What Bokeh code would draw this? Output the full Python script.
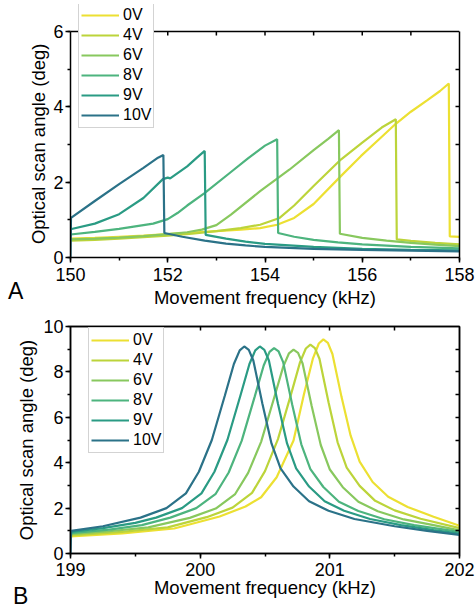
from bokeh.plotting import figure
from bokeh.layouts import column
from bokeh.models import (Legend, LegendItem, SingleIntervalTicker, FixedTicker, LinearAxis,
                          Range1d, Span, Div)
from bokeh.embed import file_html
from bokeh.resources import INLINE

FONT = "Liberation Sans"

voltages = ["0V", "4V", "6V", "8V", "9V", "10V"]
colors = ["#ece032", "#bcd43a", "#88c85e", "#4db47e", "#2a9b84", "#2b7288"]

# ---------------- Panel A (sweep 150-158 kHz) ----------------
a_0V_x = [150.0, 150.5, 151.0, 151.5, 152.0, 152.5, 153.0, 153.5, 153.9, 154.25, 154.6, 155.0,
          155.56, 155.97, 156.38, 156.69, 157.0, 157.34, 157.6, 157.78, 157.8, 158.0]
a_0V_y = [0.5, 0.52, 0.55, 0.58, 0.62, 0.66, 0.7, 0.74, 0.78, 0.87, 1.05, 1.42,
          2.16, 2.69, 3.18, 3.55, 3.87, 4.18, 4.42, 4.62, 0.56, 0.55]

a_4V_x = [150.0, 150.5, 151.0, 151.5, 152.0, 152.5, 153.0, 153.5, 153.9, 154.3, 154.6, 155.0,
          155.56, 156.0, 156.4, 156.69, 156.71, 157.0, 157.5, 158.0]
a_4V_y = [0.45, 0.47, 0.5, 0.54, 0.58, 0.63, 0.7, 0.78, 0.87, 1.05, 1.38, 1.9,
          2.6, 3.05, 3.45, 3.67, 0.48, 0.44, 0.39, 0.35]

a_6V_x = [150.0, 150.5, 151.0, 151.5, 152.0, 152.4, 152.7, 153.0, 153.3, 153.9, 154.5, 155.0,
          155.3, 155.52, 155.54, 156.0, 156.5, 157.0, 157.5, 158.0]
a_6V_y = [0.48, 0.5, 0.53, 0.57, 0.62, 0.67, 0.74, 0.86, 1.14, 1.76, 2.33, 2.85,
          3.15, 3.38, 0.63, 0.52, 0.45, 0.39, 0.34, 0.3]

a_8V_x = [150.0, 150.5, 151.0, 151.5, 151.7, 152.0, 152.2, 152.4, 152.75, 153.3, 153.65, 154.0,
          154.25, 154.27, 154.6, 155.0, 155.5, 156.0, 157.0, 158.0]
a_8V_y = [0.61, 0.68, 0.76, 0.86, 0.9, 1.02, 1.18, 1.38, 1.7, 2.27, 2.63, 2.97,
          3.14, 0.65, 0.55, 0.47, 0.4, 0.35, 0.28, 0.24]

a_9V_x = [150.0, 150.5, 151.0, 151.5, 151.9, 152.0, 152.05, 152.4, 152.6, 152.76, 152.78,
          153.2, 153.6, 154.0, 155.0, 156.0, 157.0, 158.0]
a_9V_y = [0.75, 0.9, 1.15, 1.58, 2.08, 2.12, 2.1, 2.42, 2.65, 2.83, 0.6,
          0.5, 0.42, 0.36, 0.28, 0.23, 0.2, 0.19]

a_10V_x = [150.0, 150.01, 150.5, 151.0, 151.5, 151.8, 151.91, 151.93, 152.3, 152.76, 153.2,
           153.6, 154.0, 155.0, 156.0, 157.0, 158.0]
a_10V_y = [0.0, 1.05, 1.5, 1.95, 2.38, 2.65, 2.72, 0.65, 0.55, 0.45, 0.37,
           0.32, 0.28, 0.23, 0.2, 0.18, 0.16]

# ---------------- Panel B (sweep 199-202 kHz) ----------------
b_0V_x = [199.0, 199.4, 199.8, 200.15, 200.35, 200.47, 200.59, 200.72, 200.8, 200.87, 200.915,
          200.95, 200.985, 201.02, 201.09, 201.16, 201.23, 201.33, 201.45, 201.6, 201.8, 202.0]
b_0V_y = [0.75, 0.88, 1.1, 1.63, 2.07, 2.48, 3.36, 4.98, 7.0, 8.6, 9.25,
          9.43, 9.28, 8.79, 6.9, 5.2, 4.05, 3.15, 2.5, 2.05, 1.62, 1.22]

b_4V_x = [199.0, 199.4, 199.75, 200.05, 200.25, 200.4, 200.5, 200.6, 200.7, 200.77, 200.815,
          200.85, 200.885, 200.92, 200.99, 201.06, 201.13, 201.23, 201.35, 201.5, 201.7, 202.0]
b_4V_y = [0.8, 0.95, 1.15, 1.6, 2.02, 2.67, 3.63, 5.04, 7.0, 8.42, 9.03,
          9.2, 9.05, 8.58, 6.66, 4.9, 3.78, 2.98, 2.32, 1.9, 1.53, 1.12]

b_6V_x = [199.0, 199.3, 199.6, 199.92, 200.12, 200.27, 200.37, 200.47, 200.57, 200.64, 200.685,
          200.72, 200.755, 200.79, 200.86, 200.93, 201.0, 201.1, 201.22, 201.37, 201.57,
          201.8, 202.0]
b_6V_y = [0.85, 0.98, 1.15, 1.57, 1.98, 2.62, 3.55, 4.92, 6.85, 8.22, 8.82,
          8.98, 8.84, 8.37, 6.5, 4.78, 3.7, 2.92, 2.28, 1.86, 1.5,
          1.25, 1.02]

b_8V_x = [199.0, 199.3, 199.55, 199.77, 199.97, 200.12, 200.22, 200.32, 200.42, 200.49, 200.535,
          200.57, 200.605, 200.64, 200.71, 200.78, 200.85, 200.95, 201.07, 201.22, 201.42,
          201.65, 202.0]
b_8V_y = [0.9, 1.05, 1.25, 1.58, 2.0, 2.63, 3.57, 4.96, 6.9, 8.28, 8.88,
          9.05, 8.9, 8.43, 6.55, 4.81, 3.72, 2.93, 2.28, 1.87, 1.51,
          1.25, 0.95]

b_9V_x = [199.0, 199.25, 199.5, 199.66, 199.86, 200.01, 200.11, 200.21, 200.31, 200.38, 200.425,
          200.46, 200.495, 200.53, 200.6, 200.67, 200.74, 200.84, 200.96, 201.11, 201.31,
          201.55, 201.8, 202.0]
b_9V_y = [0.95, 1.12, 1.35, 1.58, 2.0, 2.65, 3.6, 5.0, 6.95, 8.35, 8.95,
          9.12, 8.97, 8.5, 6.6, 4.85, 3.75, 2.95, 2.3, 1.88, 1.52,
          1.25, 1.03, 0.88]

b_10V_x = [199.0, 199.005, 199.25, 199.54, 199.74, 199.89, 199.99, 200.09, 200.19, 200.26,
           200.305, 200.34, 200.375, 200.41, 200.48, 200.55, 200.62, 200.72, 200.84, 200.99,
           201.19, 201.5, 201.75, 202.0]
b_10V_y = [0.0, 1.0, 1.2, 1.58, 2.0, 2.65, 3.6, 5.0, 6.95, 8.35,
           8.95, 9.12, 8.97, 8.5, 6.6, 4.85, 3.75, 2.95, 2.3, 1.88,
           1.52, 1.2, 1.0, 0.82]

panel_a = [(a_0V_x, a_0V_y), (a_4V_x, a_4V_y), (a_6V_x, a_6V_y),
           (a_8V_x, a_8V_y), (a_9V_x, a_9V_y), (a_10V_x, a_10V_y)]
panel_b = [(b_0V_x, b_0V_y), (b_4V_x, b_4V_y), (b_6V_x, b_6V_y),
           (b_8V_x, b_8V_y), (b_9V_x, b_9V_y), (b_10V_x, b_10V_y)]

# axis limits / ticks
a_xlim, a_ylim = (150, 158), (0, 6)
b_xlim, b_ylim = (199, 202), (0, 10)
a_top_ticks = [151, 152, 153, 154, 155, 156, 157]
a_right_ticks = [1, 2, 3, 4, 5]
b_top_ticks = [199.5, 200, 200.5, 201, 201.5]
b_right_ticks = [1, 2, 3, 4, 5, 6, 7, 8, 9]

XLABEL = "Movement frequency (kHz)"
YLABEL = "Optical scan angle (deg)"
NBSP = "\u00a0"

# layout constants (pixels)
W, BL, BR = 476, 70, 17
A_H, A_BT, A_FRAME_H, A_TOP_GAP = 311, 4, 253, 27   # A's frame is extended upward to hold the legend
B_H, B_BT, B_BB = 290, 15, 48
LEG_H = 124


def style_axis(ax):
    ax.axis_line_width = 1.5
    ax.axis_line_color = "black"
    ax.major_tick_line_width = 1.5
    ax.minor_tick_line_width = 1.5
    ax.major_tick_line_color = "black"
    ax.minor_tick_line_color = "black"
    ax.major_label_text_font = FONT
    ax.major_label_text_font_size = "18px"
    ax.major_label_text_color = "black"
    ax.axis_label_text_font = FONT
    ax.axis_label_text_font_style = "normal"
    ax.axis_label_text_font_size = "18.5px"
    ax.axis_label_text_color = "black"


def base_fig(height, xr, yr, bt, bb, ylabel):
    p = figure(width=W, height=height, output_backend="svg", toolbar_location=None,
               x_range=Range1d(*xr), y_range=Range1d(*yr),
               min_border_left=BL, min_border_right=BR, min_border_top=bt, min_border_bottom=bb,
               x_axis_label=XLABEL, y_axis_label=ylabel)
    p.xgrid.visible = False
    p.ygrid.visible = False
    p.background_fill_color = "white"
    p.border_fill_color = "white"
    for ax in p.xaxis + p.yaxis:
        style_axis(ax)
        ax.major_tick_in = 0
        ax.major_tick_out = 5
        ax.minor_tick_in = 0
        ax.minor_tick_out = 3
    return p


def add_lines_and_legend(p, data, loc):
    items = []
    for (xs, ys), c, v in zip(data, colors, voltages):
        r = p.line(xs, ys, line_color=c, line_width=2.2)
        items.append(LegendItem(label=v, renderers=[r]))
    leg = Legend(items=items, location=loc)
    leg.border_line_color = "#a8a8a8"
    leg.border_line_width = 1
    leg.background_fill_color = "white"
    leg.background_fill_alpha = 1
    leg.padding = 2
    leg.spacing = 0
    leg.margin = 0
    leg.glyph_width = 38
    leg.glyph_height = 20
    leg.label_height = 20
    leg.label_standoff = 4
    leg.label_text_font = FONT
    leg.label_text_font_size = "16px"
    leg.label_text_color = "black"
    p.add_layout(leg)


def tick_only_axis(ticks, bounds=None):
    ax = LinearAxis(ticker=FixedTicker(ticks=[], minor_ticks=ticks))
    style_axis(ax)
    ax.major_tick_in = 0
    ax.major_tick_out = 0
    ax.minor_tick_in = 4
    ax.minor_tick_out = 0
    ax.major_label_standoff = 0
    if bounds is not None:
        ax.bounds = bounds
    return ax


# ---------- Panel A ----------
a_px_per_unit = (A_FRAME_H - A_TOP_GAP) / (a_ylim[1] - a_ylim[0])
a_ytop = a_ylim[1] + A_TOP_GAP / a_px_per_unit
# trailing no-break spaces keep the rotated label centred on the 0-6 axis, not on the taller frame
pa = base_fig(A_H, a_xlim, (a_ylim[0], a_ytop), A_BT, A_H - A_BT - A_FRAME_H, YLABEL + NBSP * 5)
pa.outline_line_color = None
pa.xaxis.ticker = SingleIntervalTicker(interval=2, num_minor_ticks=2)
pa.yaxis.ticker = SingleIntervalTicker(interval=2, num_minor_ticks=2)
pa.yaxis.bounds = a_ylim
pa.xaxis.major_label_standoff = 5
pa.xaxis.axis_label_standoff = 3
pa.yaxis.major_label_standoff = 2
pa.yaxis.axis_label_standoff = 1
pa.add_layout(tick_only_axis(a_right_ticks, bounds=a_ylim), "right")
pa.add_layout(Span(location=a_ylim[1], dimension="width", line_color="black", line_width=1.5))
tick_len = 4 / a_px_per_unit
pa.segment(x0=a_top_ticks, y0=[a_ylim[1]] * len(a_top_ticks),
           x1=a_top_ticks, y1=[a_ylim[1] - tick_len] * len(a_top_ticks),
           line_color="black", line_width=1.5)
add_lines_and_legend(pa, panel_a, (8, A_FRAME_H - LEG_H))

# ---------- Panel B ----------
pb = base_fig(B_H, b_xlim, b_ylim, B_BT, B_BB, YLABEL)
pb.outline_line_color = "black"
pb.outline_line_width = 1.5
pb.xaxis.ticker = SingleIntervalTicker(interval=1, num_minor_ticks=2)
pb.yaxis.ticker = SingleIntervalTicker(interval=2, num_minor_ticks=2)
pb.xaxis.major_label_standoff = 4
pb.xaxis.axis_label_standoff = -2
pb.yaxis.major_label_standoff = 2
pb.yaxis.axis_label_standoff = 3
pb.add_layout(tick_only_axis(b_top_ticks), "above")
pb.add_layout(tick_only_axis(b_right_ticks), "right")
b_frame_h = B_H - B_BT - B_BB
add_lines_and_legend(pb, panel_b, (18, b_frame_h - 3 - LEG_H))

letter_style = {"font-family": FONT, "font-size": "23px", "line-height": "26px", "color": "black"}
div_a = Div(text="A", width=30, height=26, margin=(-33, 0, 7, 8), styles=letter_style)
div_b = Div(text="B", width=30, height=26, margin=(-18, 0, -8, 13), styles=letter_style)

layout = column(pa, div_a, pb, div_b, spacing=0)
open("out.html", "w").write(file_html(layout, INLINE))
